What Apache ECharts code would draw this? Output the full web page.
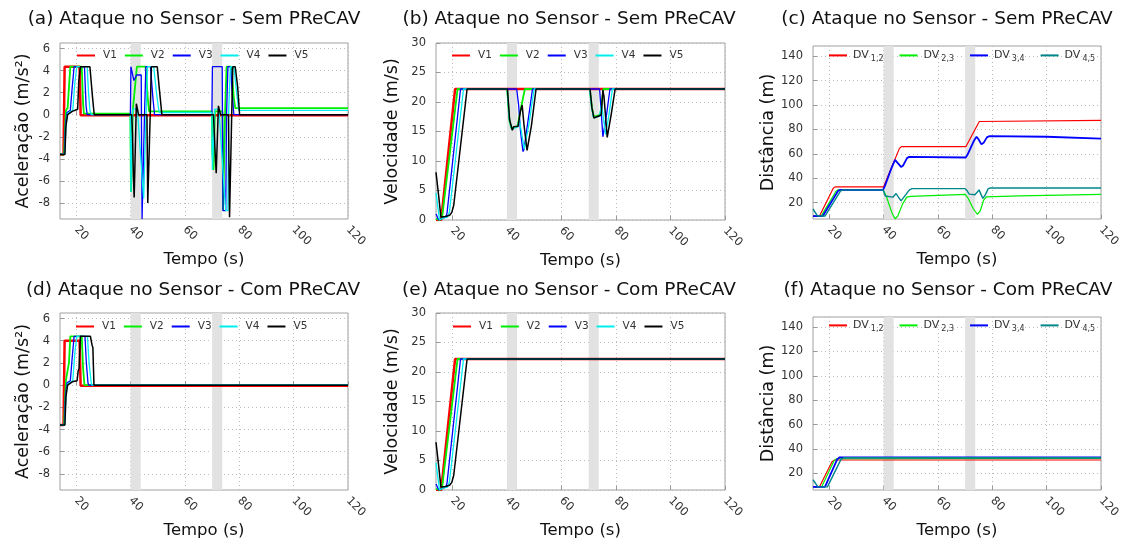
<!DOCTYPE html>
<html><head><meta charset="utf-8">
<script src="https://cdn.jsdelivr.net/npm/echarts@6/dist/echarts.min.js"></script>
<style>html,body{margin:0;padding:0;background:#fff}#c{width:1129px;height:543px}</style>
</head><body><div id="c"></div>
<script>
// ---------- axis ticks / categories ----------
const xTicks = [20, 40, 60, 80, 100, 120];
const accTicks = [-8, -6, -4, -2, 0, 2, 4, 6];
const velTicks = [0, 5, 10, 15, 20, 25, 30];
const distTicks = [20, 40, 60, 80, 100, 120, 140];
const attackBands = [[40, 43.7], [70, 73.7]];
const vehicleNames = ['V1', 'V2', 'V3', 'V4', 'V5'];
const gapNames = ['DV12', 'DV23', 'DV34', 'DV45'];
const gapSubs = ['1,2', '2,3', '3,4', '4,5'];
const panelTitles = [
  '(a) Ataque no Sensor - Sem PReCAV', '(b) Ataque no Sensor - Sem PReCAV', '(c) Ataque no Sensor - Sem PReCAV',
  '(d) Ataque no Sensor - Com PReCAV', '(e) Ataque no Sensor - Com PReCAV', '(f) Ataque no Sensor - Com PReCAV'
];

// ---------- (a) acceleration, without PReCAV: [t, m/s^2] ----------
const accSemV1 = [[14,-3.6],[15.3,-3.6],[15.7,4.35],[21.2,4.35],[21.6,-0.05],[120,-0.05]];
const accSemV2 = [[14,-3.6],[15.5,-3.6],[15.9,-1.0],[16.2,0.4],[16.8,0.6],[17.3,2.5],[17.8,4.35],[22.0,4.35],[22.5,1.0],[22.8,0.1],[39.9,0.1],[40.1,-7.0],[40.6,-7.0],[40.8,0.4],[41.5,0.5],[42.3,4.35],[45.5,4.35],[46.3,1.5],[46.8,0.3],[69.9,0.3],[70.1,-3.5],[70.5,-5.0],[70.8,-5.0],[71.0,0.3],[73.8,0.3],[74.0,-8.7],[74.6,-8.7],[74.8,0.5],[75.3,4.35],[77.0,4.35],[78.0,1.5],[78.5,0.6],[120,0.6]];
const accSemV3 = [[14,-3.6],[15.6,-3.6],[16.0,-1.0],[16.6,0.2],[17.8,0.4],[18.5,2.5],[19.2,4.35],[23.0,4.35],[23.6,0.8],[24.0,0],[39.9,0],[40.1,4.35],[40.8,4.35],[41.2,3.1],[41.8,3.1],[42.2,3.6],[43.9,3.6],[44.2,-9.45],[44.8,-9.45],[45.1,0],[45.6,4.35],[47.3,4.35],[48.2,1.5],[48.8,0],[69.9,0],[70.1,4.35],[73.7,4.35],[74.0,-8.7],[75.0,-8.7],[75.3,0],[75.8,4.35],[76.8,4.35],[77.5,1.5],[78.0,0],[120,0]];
const accSemV4 = [[14,-3.6],[15.7,-3.6],[16.2,-1.0],[16.8,0.1],[18.7,0.4],[19.5,3.0],[20.2,4.35],[24.0,4.35],[24.5,2.0],[25.0,0.4],[25.5,0],[39.9,0],[40.1,-7.0],[40.5,-7.0],[40.7,0.5],[42.5,0.5],[44.3,-6.0],[44.8,-7.6],[45.4,-7.6],[45.7,0.3],[46.2,4.35],[48.5,4.35],[49.5,2.0],[50.3,0.5],[50.6,0.2],[69.9,0.2],[70.1,-5.0],[70.6,-5.0],[70.9,0.5],[72.5,0.5],[74.5,-7.0],[75.0,-8.7],[75.8,-8.7],[76.1,0.5],[76.7,4.35],[78.0,4.35],[79.0,2.0],[79.8,0.4],[120,0.4]];
const accSemV5 = [[14,-3.6],[15.8,-3.6],[16.2,-1.0],[16.8,0],[18.5,0.3],[20.5,0.5],[20.9,3.0],[21.5,4.35],[25.0,4.35],[26.0,1.5],[26.6,0],[40.4,0],[40.7,-1.8],[41.0,-5.5],[41.3,-7.5],[41.8,-7.5],[42.1,1.0],[42.5,1.0],[42.9,0],[46.0,0],[46.3,-8.0],[46.9,-8.0],[47.2,0],[47.6,4.35],[49.8,4.35],[50.5,2.5],[51.5,0],[70.5,0],[71.2,-4.0],[71.5,-5.3],[71.8,-5.3],[72.3,0.8],[72.7,0.8],[73.1,0],[76.0,0],[76.4,-9.3],[76.9,-9.3],[77.2,0],[77.6,4.35],[78.5,4.35],[79.4,2.5],[80.1,0],[120,0]];

// ---------- (d) acceleration, with PReCAV ----------
const accComV1 = [[14,-3.6],[15.3,-3.6],[15.7,4.0],[21.2,4.0],[21.6,-0.05],[120,-0.05]];
const accComV2 = [[14,-3.6],[15.5,-3.6],[15.9,-1.0],[16.2,0.5],[16.8,0.6],[17.3,2.0],[17.8,4.4],[22.0,4.4],[22.5,1.5],[23.0,0],[120,0]];
const accComV3 = [[14,-3.6],[15.6,-3.6],[16.0,-1.0],[16.6,0.2],[17.8,0.4],[18.5,2.5],[19.2,4.4],[23.2,4.4],[23.7,2.0],[24.3,0.2],[24.6,0],[120,0]];
const accComV4 = [[14,-3.6],[15.7,-3.6],[16.2,-1.0],[16.8,0.1],[18.7,0.4],[19.5,3.0],[20.2,4.4],[24.1,4.4],[24.7,2.0],[25.5,0.2],[25.8,0],[120,0]];
const accComV5 = [[14,-3.6],[15.8,-3.6],[16.2,-1.0],[16.8,0],[18.5,0.3],[20.3,0.4],[20.7,1.3],[21.0,1.5],[21.5,4.4],[25.2,4.4],[25.8,3.6],[26.1,3.4],[26.5,0],[120,0]];

// ---------- (b) velocity, without PReCAV: [t, m/s] ----------
const velSemV1 = [[14,0],[15.9,0],[21.0,22.2],[120,22.2]];
const velSemV2 = [[14,0.2],[15.3,0],[16.2,0.3],[16.8,0.6],[21.9,22.2],[40.1,22.2],[40.9,17],[41.6,15.6],[44.0,15.9],[44.5,17.5],[46.6,22.2],[70.4,22.2],[71.2,19],[71.9,17.5],[74.2,17.8],[74.6,19],[75.4,22.2],[120,22.2]];
const velSemV3 = [[14,1.0],[15.0,0],[16.5,0.3],[17.5,0.5],[18.0,1.0],[23.0,22.2],[43.6,22.2],[44.3,19.5],[45.0,15],[45.9,11.6],[46.3,12],[47.5,16],[49.4,22.2],[74.0,22.2],[74.5,19],[75.2,14.1],[75.6,14.1],[76.6,18],[77.8,22.2],[120,22.2]];
const velSemV4 = [[14,4.6],[15.3,0],[16.5,0.3],[18.2,0.5],[18.9,1.3],[24.1,22.2],[40.1,22.2],[40.9,17],[41.7,15.4],[44.0,15.8],[44.6,17],[45.3,15],[46.4,12],[46.8,12],[48.0,16],[50.0,22.2],[70.3,22.2],[71.1,19],[71.8,17.3],[74.0,17.6],[74.7,19.5],[75.2,18],[76.2,14.5],[76.6,14.5],[77.5,18],[78.7,22.2],[120,22.2]];
const velSemV5 = [[14,8.1],[15.0,4],[15.8,0.5],[17.5,0.6],[19.0,0.8],[19.8,1.3],[20.5,2.5],[25.4,22.2],[40.2,22.2],[41.0,17],[42.0,15.2],[42.5,15.8],[44.1,15.9],[45.0,18.5],[45.6,19.5],[46.3,16],[47.4,11.8],[47.8,11.8],[49.0,16],[50.7,22.2],[70.5,22.2],[71.2,19],[71.9,17.3],[72.3,17.6],[74.6,17.8],[75.2,22.0],[75.6,21],[76.8,14.0],[77.3,13.8],[78.3,18],[79.7,22.2],[120,22.2]];

// ---------- (e) velocity, with PReCAV ----------
const velComV1 = [[14,0],[15.9,0],[21.0,22.2],[120,22.2]];
const velComV2 = [[14,0.2],[15.3,0],[16.2,0.3],[16.8,0.6],[21.9,22.2],[120,22.2]];
const velComV3 = [[14,1.0],[15.0,0],[16.5,0.3],[17.5,0.5],[18.0,1.0],[23.0,22.2],[120,22.2]];
const velComV4 = [[14,4.6],[15.3,0],[16.5,0.3],[18.2,0.5],[18.9,1.3],[24.1,22.2],[120,22.2]];
const velComV5 = [[14,8.1],[15.0,4],[15.8,0.5],[17.5,0.6],[19.0,0.8],[19.8,1.3],[20.5,2.5],[25.4,22.2],[120,22.2]];

// ---------- (c) gaps, without PReCAV: [t, m] ----------
const distSem12 = [[14,9],[16.4,9],[17.0,10.5],[21.5,32],[22.3,33],[40.0,33],[40.6,34.5],[45.8,64.5],[46.6,66],[70.3,66],[70.9,67.5],[75.2,86.5],[75.9,87.5],[120,87.5]];
const distSem23 = [[14,9],[17.0,9],[17.6,10.5],[22.5,29.5],[23.3,30.5],[39.8,30.5],[41.0,25],[43.0,12],[44.2,6.8],[45.2,9],[47.0,19],[48.5,24.5],[50.0,25.2],[70.0,26.8],[71.0,24],[73.0,15],[74.5,10.5],[75.5,13],[76.8,22],[77.8,24.8],[90,25.5],[120,26.8]];
const distSem34 = [[14,9],[17.6,9],[18.2,10.5],[23.2,29.5],[24.0,30.5],[39.8,30.5],[40.5,34],[43.0,49],[44.2,55],[44.8,54],[46.4,49.3],[47.2,50.5],[48.6,56.5],[49.4,57.6],[70.2,57],[70.8,59],[73.3,71],[74.2,74],[74.9,72],[76.0,67.8],[76.8,69],[78.0,73.5],[78.8,74.5],[100,74],[120,72.5]];
const distSem45 = [[14,14.8],[15.7,9],[18.4,9],[19.0,10.5],[24.1,29.5],[24.9,30.5],[39.8,30.5],[40.6,25.5],[41.2,24.3],[43.4,24.5],[44.0,26],[44.6,27.5],[45.3,25],[46.4,21.5],[47.0,22.5],[49.5,30.5],[50.5,31.5],[70.0,31.5],[70.8,29.5],[71.5,27],[73.6,26.5],[74.4,28.5],[75.1,30.5],[75.6,28],[76.5,23.5],[77.2,25.5],[78.5,31.5],[79.3,32],[120,32]];

// ---------- (f) gaps, with PReCAV ----------
const distCom12 = [[14,9],[16.4,9],[17.0,10.5],[21.0,29.5],[22.0,31],[120,31]];
const distCom23 = [[14,9],[17.2,9],[17.8,10.5],[21.8,30.5],[22.6,32],[23.2,32.3],[120,32.3]];
const distCom34 = [[14,9],[18.4,9],[19.0,10.5],[22.9,31.5],[23.8,33.2],[120,33.2]];
const distCom45 = [[14,14.8],[15.8,9],[19.3,9],[19.9,10.5],[24.3,31.5],[25.3,32.8],[120,32.8]];

// ---------- layout / style ----------
const FONT = 'DejaVu Sans';
const vehColors = ['#ff0000', '#00ee00', '#0000ff', '#00eeee', '#000000'];
const vehWidths = [2.5, 1.8, 1.3, 1.3, 1.5];
const gapColors = ['#ff0000', '#00ee00', '#0000ff', '#00868b'];
const gapWidths = [1.2, 1.2, 1.8, 1.4];

const grids = [
  { left: 60, top: 43, width: 288, height: 176 },
  { left: 436, top: 43, width: 289, height: 177 },
  { left: 813, top: 46, width: 288, height: 173 },
  { left: 60, top: 313, width: 288, height: 177 },
  { left: 436, top: 313, width: 289, height: 177 },
  { left: 813, top: 317, width: 288, height: 173 }
].map(g => Object.assign({ show: true, borderColor: '#a0a0a0', borderWidth: 1, containLabel: false }, g));

const titleCenters = [[194, 10], [569, 10], [947, 10], [193, 281], [569, 281], [948, 281]];

function xAxisFor(i) {
  return {
    type: 'value', gridIndex: i, min: 14, max: 120,
    name: 'Tempo (s)', nameLocation: 'middle', nameGap: 31,
    nameTextStyle: { fontSize: 16.5, color: '#111', fontFamily: FONT },
    axisLine: { show: false },
    axisTick: { show: true, inside: true, length: 4, lineStyle: { color: '#999' }, customValues: xTicks },
    axisLabel: { customValues: xTicks, rotate: -45, margin: 9, fontSize: 11.5, color: '#333', fontFamily: FONT },
    splitLine: { show: true, lineStyle: { type: [1, 3], color: '#bbb', width: 1 } }
  };
}
function yAxisFor(i, min, max, ticks, name, gap) {
  return {
    type: 'value', gridIndex: i, min: min, max: max,
    name: name, nameLocation: 'middle', nameGap: gap,
    nameTextStyle: { fontSize: 17.5, color: '#111', fontFamily: FONT },
    axisLine: { show: false },
    axisTick: { show: true, inside: true, length: 4, lineStyle: { color: '#999' }, customValues: ticks },
    axisLabel: { customValues: ticks, margin: 10, fontSize: 11.5, color: '#333', fontFamily: FONT },
    splitLine: { show: true, lineStyle: { type: [1, 3], color: '#bbb', width: 1 } }
  };
}

const bandArea = {
  silent: true, z: 1,
  itemStyle: { color: '#e2e2e2' },
  data: attackBands.map(b => [{ xAxis: b[0] }, { xAxis: b[1] }])
};

function lineSeries(name, data, gi, color, width, withBands) {
  const s = {
    type: 'line', name: name, xAxisIndex: gi, yAxisIndex: gi, data: data,
    symbol: 'none', showSymbol: false, animation: false, z: 3,
    lineStyle: { color: color, width: width }, itemStyle: { color: color }
  };
  if (withBands) s.markArea = bandArea;
  return s;
}

const vehPanels = [
  [0, [accSemV1, accSemV2, accSemV3, accSemV4, accSemV5]],
  [1, [velSemV1, velSemV2, velSemV3, velSemV4, velSemV5]],
  [3, [accComV1, accComV2, accComV3, accComV4, accComV5]],
  [4, [velComV1, velComV2, velComV3, velComV4, velComV5]]
];
const gapPanels = [
  [2, [distSem12, distSem23, distSem34, distSem45]],
  [5, [distCom12, distCom23, distCom34, distCom45]]
];

const series = [];
vehPanels.forEach(([gi, arr]) => arr.forEach((d, k) =>
  series.push(lineSeries(vehicleNames[k], d, gi, vehColors[k], vehWidths[k], k === 0))));
gapPanels.forEach(([gi, arr]) => arr.forEach((d, k) =>
  series.push(lineSeries(gapNames[k], d, gi, gapColors[k], gapWidths[k], k === 0))));

const vehLegendPos = [[76, 56], [451, 56], [75, 327], [452, 327]];
const gapLegendPos = [[828, 57], [828, 327]];
const legends = [];
vehLegendPos.forEach(p => legends.push({
  data: vehicleNames, left: p[0], top: p[1] - 6, itemWidth: 18, itemHeight: 12, itemGap: 7,
  selectedMode: false, padding: 0,
  itemStyle: { opacity: 0, borderWidth: 0 },
  textStyle: { fontSize: 10.5, color: '#333', fontFamily: FONT, padding: [0, 0, 0, 3] }
}));
gapLegendPos.forEach(p => legends.push({
  data: gapNames, left: p[0], top: p[1] - 8, itemWidth: 18, itemHeight: 16, itemGap: 15,
  selectedMode: false, padding: 0,
  itemStyle: { opacity: 0, borderWidth: 0 },
  formatter: n => '{m|DV}{s|' + gapSubs[gapNames.indexOf(n)] + '}',
  textStyle: {
    color: '#333', fontFamily: FONT, padding: [0, 0, 0, 1],
    rich: {
      m: { fontSize: 11, lineHeight: 16, color: '#333', fontFamily: FONT },
      s: { fontSize: 8, lineHeight: 8, verticalAlign: 'bottom', color: '#333', fontFamily: FONT, padding: [0, 0, 0, 2] }
    }
  }
}));

const option = {
  animation: false,
  backgroundColor: '#ffffff',
  textStyle: { fontFamily: FONT },
  title: panelTitles.map((t, i) => ({
    text: t, left: titleCenters[i][0], top: titleCenters[i][1], textAlign: 'center', padding: 0,
    textStyle: { fontSize: 18.5, fontWeight: 'normal', color: '#111', fontFamily: FONT }
  })),
  grid: grids,
  legend: legends,
  xAxis: [0, 1, 2, 3, 4, 5].map(xAxisFor),
  yAxis: [
    yAxisFor(0, -9.45, 6.5, accTicks, 'Aceleração (m/s²)', 27.5),
    yAxisFor(1, 0, 30, velTicks, 'Velocidade (m/s)', 35),
    yAxisFor(2, 6.6, 148.4, distTicks, 'Distância (m)', 36),
    yAxisFor(3, -9.45, 6.5, accTicks, 'Aceleração (m/s²)', 27.5),
    yAxisFor(4, 0, 30, velTicks, 'Velocidade (m/s)', 35),
    yAxisFor(5, 6.4, 148.2, distTicks, 'Distância (m)', 36)
  ],
  series: series
};

const chart = echarts.init(document.getElementById('c'), null, { renderer: 'canvas' });
chart.setOption(option);
</script></body></html>
